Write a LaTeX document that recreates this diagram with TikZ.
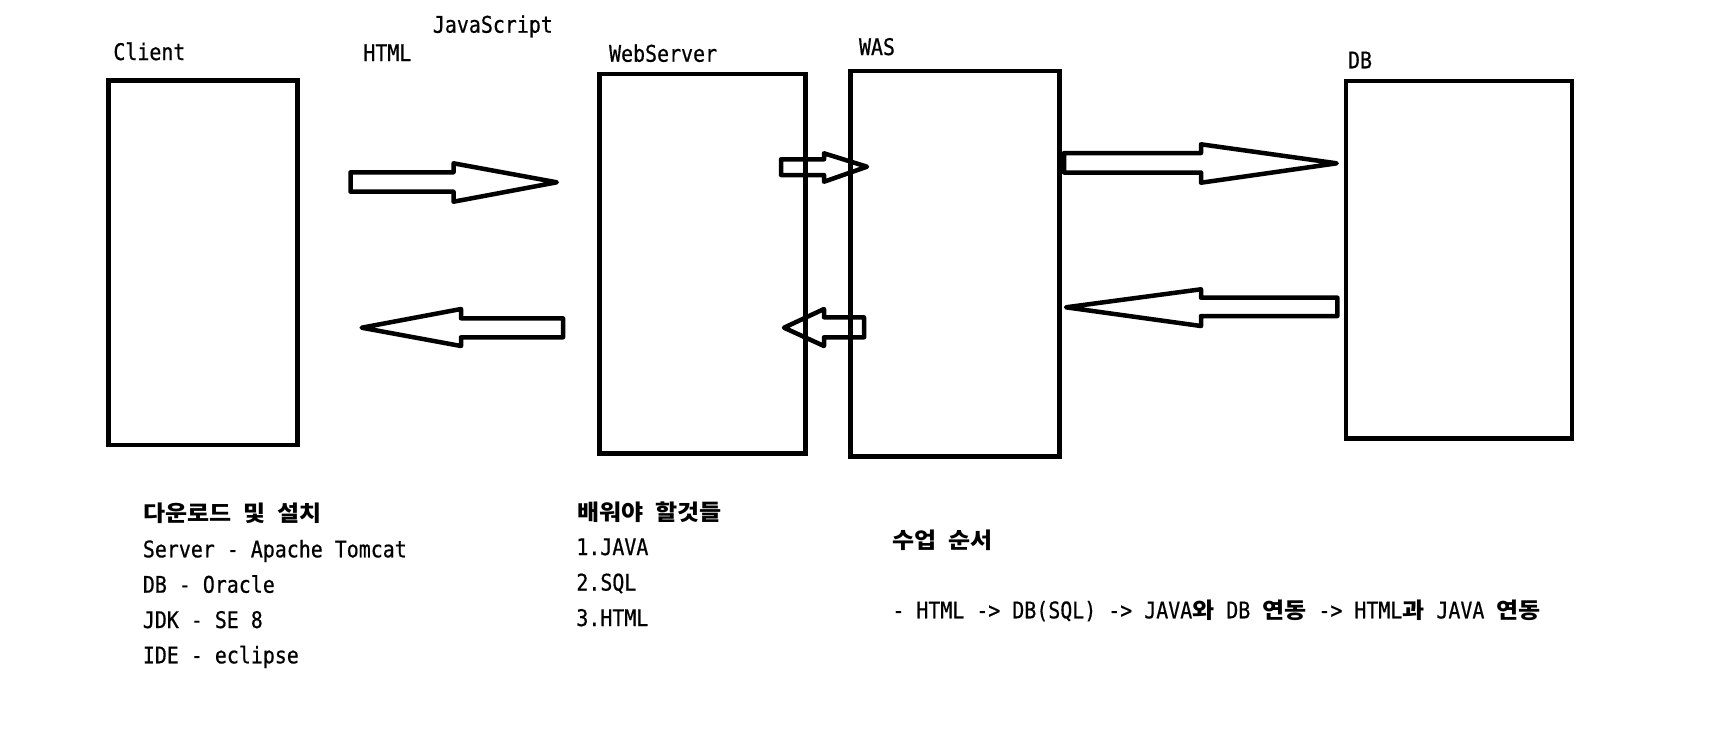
\documentclass[tikz,border=0pt]{standalone}
\usepackage{fontspec}
\usetikzlibrary{fit}
\newfontfamily\monofnt{DejaVu Sans Mono}[FakeStretch=0.87, FakeBold=0.6]
\newfontfamily\krfont{Noto Sans CJK KR}[FakeStretch=1.09]
\newcommand{\K}[1]{{\krfont\bfseries\fontsize{11pt}{13pt}\selectfont #1}}
\tikzset{
  txt/.style={anchor=base west, inner sep=0pt, font=\monofnt\fontsize{11.45pt}{14pt}\selectfont},
  box/.style={draw, line width=2.25pt, line join=miter, inner sep=0pt},
  blockarrow/.style={draw, line width=2.25pt, line join=round},
}
\begin{document}
\begin{tikzpicture}[x=0.5pt, y=-0.5pt]
\useasboundingbox[fill=white] (0,0) rectangle (1724,735);

% boxes
\node[box, fit={(108.5,80.7) (297.5,445)}] (client) {};
\node[box, fit={(599.3,74) (805.7,453.3)}] (web) {};
\node[box, fit={(850.7,71) (1059.7,456.3)}] (was) {};
\node[box, fit={(1346,81) (1572,438.3)}] (db) {};

% labels
\node[txt] (lclient) at (113,60) {Client};
\node[txt] (lhtml) at (363,61) {HTML};
\node[txt] (ljs) at (432.5,32.7) {JavaScript};
\node[txt] (lweb) at (608.7,61.7) {WebServer};
\node[txt] (lwas) at (858.6,55) {WAS};
\node[txt] (ldb) at (1347.6,68.3) {DB};

% block arrows
\draw[blockarrow] (350.5,172.3) -- (453.5,172.3) -- (453.5,163.3) -- (556.8,182.3) -- (453.5,201.7) -- (453.5,191.7) -- (350.5,191.7) -- cycle;
\draw[blockarrow] (563,318.3) -- (461,318.3) -- (461,309) -- (361.7,327.7) -- (461,346) -- (461,337.3) -- (563,337.3) -- cycle;
\draw[blockarrow] (781,159.3) -- (824,159.3) -- (824,153.3) -- (867,166.7) -- (824,181.7) -- (824,175) -- (781,175) -- cycle;
\draw[blockarrow] (864,317.3) -- (824,317.3) -- (824,309) -- (784,327.7) -- (824,346) -- (824,337.3) -- (864,337.3) -- cycle;
\draw[blockarrow] (1064,153) -- (1201,153) -- (1201,144.3) -- (1336.7,163.3) -- (1201,182.7) -- (1201,172.5) -- (1064,172.5) -- cycle;
\draw[blockarrow] (1337.4,297.7) -- (1201,297.7) -- (1201,289.3) -- (1066,307.3) -- (1201,326) -- (1201,316) -- (1337.4,316) -- cycle;

% bottom texts
\node[txt] (t1) at (143,521) {\K{다운로드} \K{및} \K{설치}};
\node[txt] (t2) at (142.5,557.3) {Server - Apache Tomcat};
\node[txt] (t3) at (142.5,592.7) {DB - Oracle};
\node[txt] (t4) at (142.5,628) {JDK - SE 8};
\node[txt] (t5) at (142.5,663.3) {IDE - eclipse};

\node[txt] (m1) at (577,520.7) {\K{배워야} \K{할것들}};
\node[txt] (m2) at (576,555) {1.JAVA};
\node[txt] (m3) at (576,590.5) {2.SQL};
\node[txt] (m4) at (576,626) {3.HTML};

\node[txt] (r1) at (892,548) {\K{수업} \K{순서}};
\node[txt] (r2) at (892,618.3) {- HTML -> DB(SQL) -> JAVA\K{와} DB \K{연동} -> HTML\K{과} JAVA \K{연동}};
\end{tikzpicture}
\end{document}
